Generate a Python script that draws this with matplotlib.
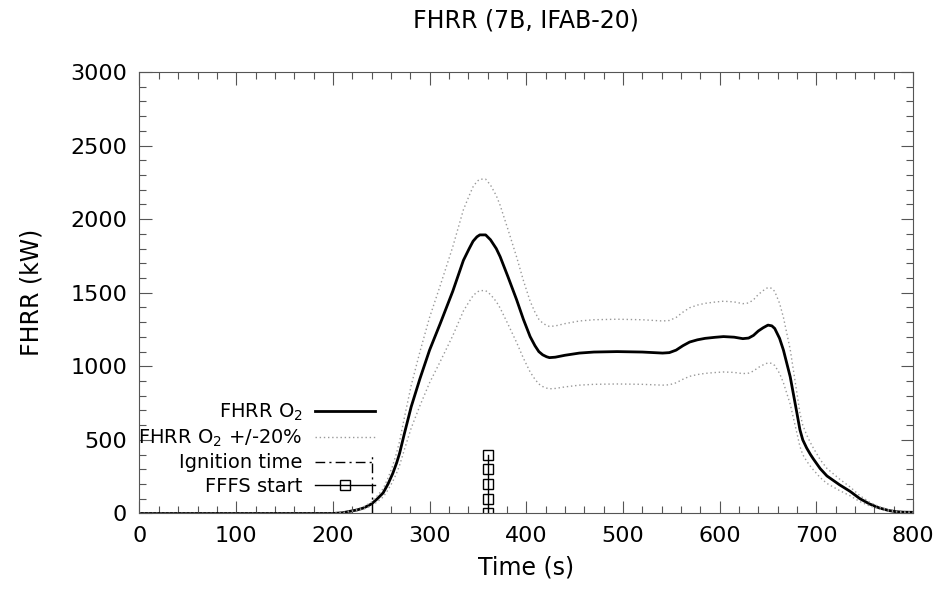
import matplotlib
matplotlib.use("Agg")
import matplotlib.pyplot as plt
from matplotlib.ticker import MultipleLocator
import numpy as np

# FHRR curve (s, kW)
time = [0, 100, 200, 210, 217, 225, 232, 240, 246, 252, 257, 262, 266, 269,
        274, 281, 290, 300, 311, 324, 335, 341, 345, 349, 352, 358, 363, 369,
        373, 381, 390, 397, 404, 409, 413, 417, 421, 424, 430, 440, 455,
        470, 494, 520, 541, 548, 555, 562, 569, 577, 585, 595, 604, 615, 624,
        630, 635, 640, 645, 650, 654, 657, 662, 666, 673, 680, 683, 686, 690,
        694, 697, 704, 711, 724, 735, 745, 755, 765, 775, 783, 790, 800]
hrr = [0, 0, 0, 5, 14, 24, 38, 65, 100, 140, 200, 273, 345, 409,
       544, 725, 915, 1110, 1290, 1510, 1720, 1800, 1850, 1880, 1893, 1893,
       1860, 1800, 1745, 1610, 1453, 1320, 1202, 1140, 1100, 1078, 1065,
       1059, 1062, 1075, 1090, 1097, 1100, 1097, 1090, 1093, 1110, 1140, 1165,
       1180, 1190, 1197, 1202, 1198, 1188, 1192, 1210, 1240, 1262, 1280, 1275,
       1257, 1190, 1110, 929, 680, 570, 500, 445, 400, 370, 305, 255, 195,
       150, 101, 65, 38, 20, 12, 9, 8]
band = 0.20  # +/-20 %

ignition_t = 240
ignition_q = [0, 400]
fffs_t = 360
fffs_q = [0, 100, 200, 300, 400]

hrr = np.array(hrr)

plt.rcParams['font.family'] = ['DejaVu Sans']

fig = plt.figure(figsize=(9.47, 6.11), dpi=100)
ax = fig.add_axes([0.1473, 0.1596, 0.8168, 0.7226])

ax.plot(time, hrr, color='black', lw=2.0, label='FHRR O$_2$')
ax.plot(time, hrr * (1 + band), color='#999999', lw=1.0, ls=(0, (1, 2)),
        label='FHRR O$_2$ +/-20%')
ax.plot(time, hrr * (1 - band), color='#999999', lw=1.0, ls=(0, (1, 2)))
ax.plot([ignition_t, ignition_t], ignition_q, color='black', lw=1.0,
        ls=(0, (7, 3, 1.5, 3)), label='Ignition time')
ax.plot([fffs_t] * len(fffs_q), fffs_q, color='black', lw=1.0, marker='s',
        markersize=7, markerfacecolor='none', markeredgewidth=1.0,
        label='FFFS start')

ax.set_xlim(0, 800)
ax.set_ylim(0, 3000)
ax.xaxis.set_major_locator(MultipleLocator(100))
ax.xaxis.set_minor_locator(MultipleLocator(20))
ax.yaxis.set_major_locator(MultipleLocator(500))
ax.yaxis.set_minor_locator(MultipleLocator(100))
ax.tick_params(which='both', direction='in', top=True, right=True,
               labelsize=16, width=0.8, color='#555555')
ax.tick_params(which='major', length=9, pad=9)
ax.tick_params(which='minor', length=5)
for s in ax.spines.values():
    s.set_linewidth(0.8)
    s.set_color('#555555')

ax.set_title('FHRR (7B, IFAB-20)', fontsize=17, pad=32)
ax.set_xlabel('Time (s)', fontsize=17, labelpad=7)
ax.set_ylabel('FHRR (kW)', fontsize=17, labelpad=19)

leg = ax.legend(loc='lower left', bbox_to_anchor=(-0.024, 0.0),
                frameon=False, markerfirst=False, fontsize=14,
                handlelength=3.1, numpoints=1, labelspacing=0.24,
                handletextpad=0.6)
for t in leg.get_texts():
    t.set_ha('right')
leg._legend_box.align = 'right'

fig.savefig('out.png', dpi=100)
